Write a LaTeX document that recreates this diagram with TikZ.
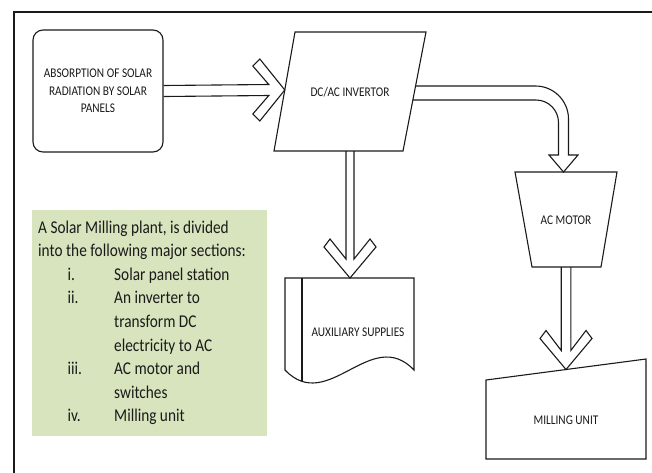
\documentclass[tikz,border=0pt]{standalone}
\usepackage{fontspec}
\usetikzlibrary{calc}
\newfontfamily\lblfont[FakeStretch=0.85]{Carlito}
\newfontfamily\notefont[FakeStretch=0.85]{Carlito}
\definecolor{notegreen}{HTML}{D7E4BD}
\definecolor{ink}{HTML}{1A1A1A}
\tikzset{
  shapeline/.style={draw=ink, line width=1.1pt, line join=miter},
  arrowline/.style={draw=ink, line width=1.1pt, line join=miter},
  lbl/.style={font=\lblfont\fontsize{13.3}{17.5}\selectfont, align=center, inner sep=0pt, text=ink},
  notetext/.style={font=\notefont\fontsize{18}{23.6}\selectfont, anchor=base west, inner sep=0pt, text=ink},
}
\newcommand\rightchev[2]{%
  \draw[arrowline] ($(#1)+(0,-5.5)$) -- ($(#2)+(-16,-5.5)$) -- ($(#2)+(-32,-24)$) -- ($(#2)+(-25,-31)$) -- (#2)
    -- ($(#2)+(-25,31)$) -- ($(#2)+(-32,24)$) -- ($(#2)+(-16,5.5)$) -- ($(#1)+(0,5.5)$);}
\newcommand\downchev[3]{%
  \draw[arrowline] ($(#1)+(-#3,0)$) -- ($(#2)+(-#3,-19)$) -- ($(#2)+(-20,-39)$) -- ($(#2)+(-26,-31)$) -- (#2)
    -- ($(#2)+(26,-31)$) -- ($(#2)+(20,-39)$) -- ($(#2)+(#3,-19)$) -- ($(#1)+(#3,0)$);}
\begin{document}
\begin{tikzpicture}[x=1pt,y=-1pt]
\useasboundingbox (0,0) rectangle (652,472);
\begin{scope}
  \clip (0,0) rectangle (652,472);
  \draw[draw=ink, line width=1.6pt] (14,12) rectangle (700,530);
\end{scope}

% note box
\fill[notegreen] (32,210) rectangle (267,436);
\node[notetext] (t1) at (38,233) {A Solar Milling plant, is divided};
\node[notetext] (t2) at (38,256.6) {into the following major sections:};
\node[notetext] (n1) at (67.5,280.2) {i.};
\node[notetext] (t3) at (114,280.2) {Solar panel station};
\node[notetext] (n2) at (67.5,303.8) {ii.};
\node[notetext] (t4) at (114,303.8) {An inverter to};
\node[notetext] (t5) at (114,327.4) {transform DC};
\node[notetext] (t6) at (114,351) {electricity to AC};
\node[notetext] (n3) at (67.5,374.6) {iii.};
\node[notetext] (t7) at (114,374.6) {AC motor and};
\node[notetext] (t8) at (114,398.2) {switches};
\node[notetext] (n4) at (67.5,421.8) {iv.};
\node[notetext] (t9) at (114,421.8) {Milling unit};

% absorption box
\node[shapeline, rounded corners=10pt, minimum width=130pt, minimum height=122pt, inner sep=0pt, lbl] (abs) at (98,91)
  {ABSORPTION OF SOLAR\\RADIATION BY SOLAR\\PANELS};

% inverter parallelogram
\draw[shapeline] (295,32) coordinate (invNW) -- (426,32) coordinate (invNE) -- (403,151) coordinate (invSE) -- (274,151) coordinate (invSW) -- cycle;
\node[lbl] (inv) at (350,92) {DC/AC INVERTOR};
\coordinate (invW) at (284.8,90);
\coordinate (invS) at (350,151);
\coordinate (invE1) at (415.6,86);
\coordinate (invE2) at (412.9,100);

% auxiliary supplies document
\draw[shapeline] (285,278) coordinate (auxNW) -- (414,278) -- (414,370) .. controls (371,325) and (328,415) .. (285,370) -- cycle;
\draw[shapeline] (302,278) -- (302,381);
\coordinate (auxN) at (350,278);
\node[lbl] (aux) at (358,332) {AUXILIARY SUPPLIES};

% AC motor
\draw[shapeline] (515,172) -- (617,172) -- (601,267) -- (532,267) -- cycle;
\node[lbl] (mot) at (566,220) {AC MOTOR};
\coordinate (motN) at (563.5,172);
\coordinate (motS) at (566,267);

% milling unit
\draw[shapeline] (486,380) -- (646,359) -- (646,459) -- (486,459) -- cycle;
\node[lbl] (mill) at (566,420) {MILLING UNIT};
\coordinate (millN) at (566,369.5);

% hollow arrows
\rightchev{abs.east}{invW}
\downchev{invS}{auxN}{4}
\downchev{motS}{millN}{4.8}
\draw[arrowline] (invE1) -- (535.5,86) .. controls (553.7,86) and (568.5,100.8) .. (568.5,119) -- (568.5,155)
  -- (578,155) -- (motN) -- (549,155) -- (558.5,155) -- (558.5,122.5)
  .. controls (558.5,110.1) and (548.4,100) .. (536,100) -- (invE2);
\end{tikzpicture}
\end{document}
